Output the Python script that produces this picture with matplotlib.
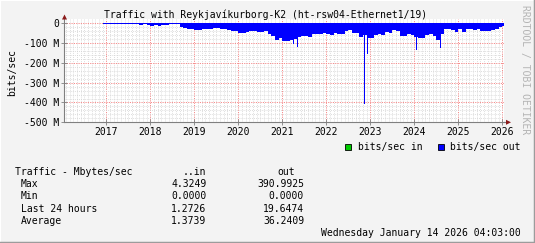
"""RRD style traffic graph, recreated with matplotlib"""

import matplotlib
matplotlib.use('agg')
import matplotlib.pyplot as plt
import matplotlib.dates as mdates
from matplotlib.lines import Line2D
from matplotlib.patches import Rectangle, Polygon
from datetime import datetime
import pandas as pd

plt.rcParams['font.family'] = ['DejaVu Sans Mono']
plt.rcParams['font.size'] = 7

TITLE = "Traffic with Reykjavíkurborg-K2 (ht-rsw04-Ethernet1/19)"
YEARS = [2017, 2018, 2019, 2020, 2021, 2022, 2023, 2024, 2025, 2026]

# outgoing traffic, monthly, Mbit/s, starting Dec 2016
out_start = "2016-12-01"
out_monthly = [
    2, 2, 2, 2, 2, 2, 2, 2, 2, 3, 10, 6,
    11, 12, 10, 13, 11, 9, 4, 3, 5, 18, 22, 28,
    27, 32, 35, 30, 31, 29, 25, 24, 28, 30, 36, 37,
    38, 49, 48, 45, 40, 38, 45, 42, 38, 52, 62, 83,
    75, 92, 90, 85, 80, 70, 66, 62, 68, 55, 52, 56,
    50, 52, 60, 48, 52, 56, 38, 35, 48, 50, 70, 60,
    72, 72, 57, 56, 58, 46, 50, 36, 38, 62, 66, 55,
    58, 70, 75, 72, 58, 55, 62, 83, 55, 28, 30, 34,
    42, 30, 45, 30, 28, 32, 30, 40, 38, 40, 32, 30,
    18, 15,
]
# short peaks inside the months above
spike_dates = ["2021-03-26", "2021-05-01", "2022-11-10", "2022-12-03",
               "2024-01-12", "2024-07-30"]
spike_values = [105, 122, 410, 155, 135, 125]

yticks = [0, -100, -200, -300, -400, -500]

stat_rows = ["Max", "Min", "Last 24 hours", "Average"]
stat_in = ["4.3249", "0.0000", "1.2726", "1.3739"]
stat_out = ["390.9925", "0.0000", "19.6474", "36.2409"]
STAMP = "Wednesday January 14 2026 04:03:00"

W, H = 535, 243
BG = '#F3F3F3'
BLUE = '#0000FF'
GREEN = '#00CC00'


def fx(x):
    return x / W


def fy(y):
    return 1 - y / H


def main():
    fig = plt.figure(figsize=(W / 100, H / 100), dpi=100, facecolor=BG)
    ax = fig.add_axes([fx(64), fy(122.3), 440 / W, 103.4 / H])
    ax.set_facecolor('white')

    months = pd.date_range(out_start, periods=len(out_monthly), freq='MS')
    widths = ((months + pd.offsets.MonthBegin(1)) - months).days
    ax.bar(months, [-v for v in out_monthly], width=widths, align='edge',
           color=BLUE, linewidth=0, zorder=2)
    ax.bar(pd.to_datetime(spike_dates), [-v for v in spike_values], width=9,
           align='edge', color=BLUE, linewidth=0, zorder=2)

    ax.set_xlim(datetime(2016, 1, 14, 4, 3), datetime(2026, 1, 14, 4, 3))
    ax.set_ylim(-500, 22)

    ax.set_xticks([datetime(y, 1, 1) for y in YEARS])
    ax.set_xticklabels([str(y) for y in YEARS])
    ax.xaxis.set_minor_locator(mdates.MonthLocator())
    ax.set_yticks(yticks)
    ax.set_yticklabels(["0" if v == 0 else "%d M" % v for v in yticks])
    ax.set_yticks(range(-500, 1, 20), minor=True)

    ax.grid(which='minor', color='#D2D2D2', linestyle=(0, (1, 1.5)),
            linewidth=0.6)
    ax.grid(which='major', color='#F58C8C', linestyle=(0, (1.2, 1.2)),
            linewidth=0.7)
    ax.set_axisbelow(True)

    ax.tick_params(which='minor', length=0)
    ax.tick_params(which='major', direction='inout', length=4, width=0.6,
                   color='#808080', pad=1.5, labelsize=7)
    for s in ['top', 'right']:
        ax.spines[s].set_visible(False)
    for s in ['left', 'bottom']:
        ax.spines[s].set_color('#808080')
        ax.spines[s].set_linewidth(0.8)

    # axis extensions with arrow heads
    ax.add_line(Line2D([0, 0], [1, (122.3 - 19) / 103.4], color='#808080',
                       linewidth=0.8, transform=ax.transAxes, clip_on=False))
    ax.add_line(Line2D([1, 443 / 440], [0, 0], color='#808080',
                       linewidth=0.8, transform=ax.transAxes, clip_on=False))
    fig.add_artist(Polygon([(fx(62), fy(19.5)), (fx(67), fy(19.5)),
                            (fx(64.5), fy(14.5))], closed=True,
                           color='#8B1A1A', linewidth=0))
    fig.add_artist(Polygon([(fx(506), fy(119.8)), (fx(506), fy(124.8)),
                            (fx(511), fy(122.3))], closed=True,
                           color='#8B1A1A', linewidth=0))

    fig.text(fx(266), fy(15), TITLE, ha='center', va='center')
    fig.text(fx(12), fy(72), "bits/sec", rotation=90, ha='center',
             va='center')
    fig.text(fx(525), fy(5), "RRDTOOL / TOBI OETIKER", rotation=270,
             ha='center', va='top', color='#B4B4B4')

    # legend
    fig.add_artist(Rectangle((fx(345), fy(150)), 6 / W, 6 / H,
                             facecolor=GREEN, edgecolor='black',
                             linewidth=0.6))
    fig.text(fx(357.5), fy(147), "bits/sec in", va='center')
    fig.add_artist(Rectangle((fx(437.5), fy(150)), 6 / W, 6 / H,
                             facecolor=BLUE, edgecolor='black',
                             linewidth=0.6))
    fig.text(fx(450), fy(147), "bits/sec out", va='center')

    # statistics table
    fig.text(fx(15), fy(172), "Traffic - Mbytes/sec", va='center')
    fig.text(fx(206.5), fy(172), "..in", ha='right', va='center')
    fig.text(fx(295), fy(172), "out", ha='right', va='center')
    row_y = [184, 196.3, 208.6, 221]
    for y, name, vin, vout in zip(row_y, stat_rows, stat_in, stat_out):
        fig.text(fx(21), fy(y), name, va='center')
        fig.text(fx(206.5), fy(y), vin, ha='right', va='center')
        fig.text(fx(304), fy(y), vout, ha='right', va='center')
    fig.text(fx(521), fy(232.6), STAMP, ha='right', va='center')

    # 3d frame
    fig.add_artist(Line2D([0, 0, 1], [0, 1, 1], color='white',
                          linewidth=1.5, transform=fig.transFigure))
    fig.add_artist(Line2D([0, 1, 1], [0, 0, 1], color='#9C9C9C',
                          linewidth=2.5, transform=fig.transFigure))

    fig.savefig("out.png", dpi=100, facecolor=BG)


if __name__ == "__main__":
    main()
